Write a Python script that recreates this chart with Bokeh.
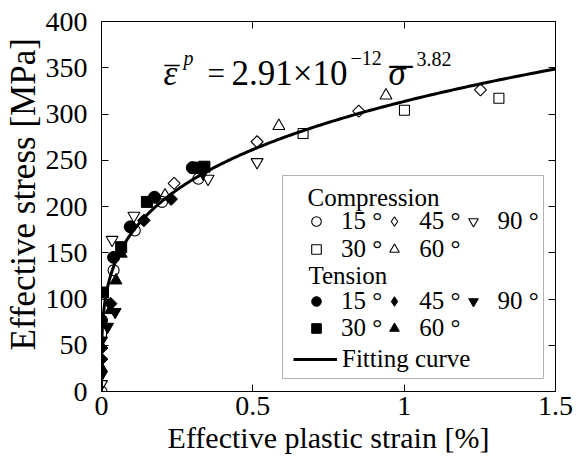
import numpy as np
from bokeh.plotting import figure
from bokeh.models import (Range1d, LinearAxis, FixedTicker, Label, Legend, LegendItem,
                          BoxAnnotation, Title)
from bokeh.embed import file_html
from bokeh.resources import INLINE

FONT = "Liberation Serif"

# ---- data ----
# Compression (open markers): strain [%], stress [MPa]
c15_x = [0.0, 0.04, 0.11, 0.20, 0.32]
c15_y = [0, 131, 174, 205, 230]
c30_x = [0.0, 0.666, 1.001, 1.313]
c30_y = [64, 279, 304, 317]
c45_x = [0.24, 0.514, 0.85, 1.252]
c45_y = [225, 270, 303, 326]
c60_x = [0.21, 0.586, 0.94]
c60_y = [212, 287, 320]
c90_x = [0.0, 0.035, 0.107, 0.352, 0.514]
c90_y = [8, 164, 190, 230, 248]

# Tension (filled markers)
t15_x = [0.0, 0.04, 0.095, 0.175, 0.30]
t15_y = [77, 145, 178, 210, 242]
t30_x = [0.005, 0.065, 0.15, 0.315, 0.34]
t30_y = [107, 156, 205, 242, 243]
t45_x = [0.0, 0.0, 0.03, 0.14, 0.23]
t45_y = [35, 47, 95, 185, 208]
t60_x = [0.0, 0.03, 0.048, 0.065, 0.31]
t60_y = [25, 88, 120, 149, 240]
t90_x = [0.0, 0.0, 0.02, 0.045, 0.335]
t90_y = [18, 55, 70, 86, 236]

# Fitting curve: eps_p = A * sigma^n (eps as fraction, plotted in %)
fit_A = 2.91e-12
fit_n = 3.82
fit_sigma = np.linspace(0, 352, 300)
fit_strain = 100 * fit_A * fit_sigma ** fit_n

x_ticks = [0, 0.5, 1, 1.5]
y_ticks = [0, 50, 100, 150, 200, 250, 300, 350, 400]

# ---- figure ----
p = figure(width=576, height=464, output_backend="svg", toolbar_location=None,
           x_range=Range1d(0, 1.5), y_range=Range1d(0, 400),
           min_border_left=101, min_border_right=21, min_border_top=21, min_border_bottom=73,
           background_fill_color="white", border_fill_color="white")
p.grid.visible = False
p.outline_line_color = "black"
p.outline_line_width = 1

bottom_ax = p.below[0]
left_ax = p.left[0]

def style_axis(ax, ticks, labels=True, standoff=6, size="28px"):
    ax.ticker = FixedTicker(ticks=ticks)
    ax.minor_tick_line_color = None
    ax.major_tick_in = 7
    ax.major_tick_out = 0
    ax.axis_line_color = "black"
    ax.major_tick_line_color = "black"
    ax.major_label_text_font = FONT
    ax.major_label_text_font_size = size
    ax.major_label_text_color = "black"
    ax.major_label_standoff = standoff
    if not labels:
        ax.major_label_overrides = {t: "" for t in ticks}

style_axis(bottom_ax, x_ticks, True, 5, "28px")
style_axis(left_ax, y_ticks, True, 14, "28px")
top_ax = LinearAxis()
right_ax = LinearAxis()
p.add_layout(top_ax, "above")
p.add_layout(right_ax, "right")
style_axis(top_ax, x_ticks, False)
style_axis(right_ax, y_ticks, False)

# x axis title
bottom_ax.axis_label = "Effective plastic strain [%]"
bottom_ax.axis_label_text_font = FONT
bottom_ax.axis_label_text_font_size = "30px"
bottom_ax.axis_label_text_font_style = "normal"
bottom_ax.axis_label_text_color = "black"
bottom_ax.axis_label_standoff = 3

# y axis title (as side title, to place it like the reference)
p.add_layout(Title(text="Effective stress [MPa]", align="left", offset=41, standoff=0,
                   text_font=FONT, text_font_size="35px", text_font_style="normal",
                   text_color="black"), "left")

# curve
curve = p.line(fit_strain, fit_sigma, line_color="black", line_width=3)

OPEN = dict(fill_color=None, line_color="black", line_width=1.1)
FILL = dict(fill_color="black", line_color="black", line_width=1)

rc15 = p.scatter(c15_x, c15_y, marker="circle", size=11, **OPEN)
rc30 = p.scatter(c30_x, c30_y, marker="square", size=10, **OPEN)
rc45 = p.scatter(c45_x, c45_y, marker="square", size=8.5, angle=np.pi / 4, **OPEN)
rc60 = p.scatter(c60_x, c60_y, marker="triangle", size=12, **OPEN)
rc90 = p.scatter(c90_x, c90_y, marker="inverted_triangle", size=12, **OPEN)

rt15 = p.scatter(t15_x, t15_y, marker="circle", size=12, **FILL)
rt30 = p.scatter(t30_x, t30_y, marker="square", size=11, **FILL)
rt45 = p.scatter(t45_x, t45_y, marker="square", size=9, angle=np.pi / 4, **FILL)
rt60 = p.scatter(t60_x, t60_y, marker="triangle", size=12, **FILL)
rt90 = p.scatter(t90_x, t90_y, marker="inverted_triangle", size=12, **FILL)

# diamond glyphs for the legend (the legend does not rotate markers);
# drawn at zero size under the rotated squares so they do not show in the plot
ld_open = p.scatter(c45_x, c45_y, marker="diamond", size=0, level="underlay", **OPEN)
ld_fill = p.scatter(t45_x, t45_y, marker="diamond", size=0, level="underlay", **FILL)

# ---- helpers in screen (frame) coordinates ----
FL, FB = 101, 391  # frame left / bottom in canvas pixels

def lab(text, cx, cy, size, style="normal", align="left", baseline="alphabetic"):
    p.add_layout(Label(x=cx - FL, y=FB - cy, x_units="screen", y_units="screen",
                       text=text, text_font=FONT, text_font_size=f"{size}px",
                       text_font_style=style, text_color="black",
                       text_align=align, text_baseline=baseline))

# legend box
p.add_layout(BoxAnnotation(left=282 - FL, right=543 - FL, bottom=FB - 378, top=FB - 175,
                           left_units="screen", right_units="screen",
                           bottom_units="screen", top_units="screen",
                           fill_color="white", fill_alpha=1.0,
                           line_color="black", line_width=1, level="annotation"))

lab("Compression", 307, 197, 25, baseline="middle")
lab("Tension", 308, 275, 25, baseline="middle")

H = 29.0

def row_legend(items, x0, cy, gw=24, gh=24, standoff=13, spacing=0):
    lg = Legend(items=[LegendItem(label=t, renderers=[r]) for t, r in items],
                orientation="horizontal", location=(x0 - FL, FB - cy - H / 2),
                glyph_width=gw, glyph_height=gh, label_standoff=standoff, spacing=spacing,
                padding=0, margin=0, border_line_color=None, background_fill_alpha=0,
                label_text_font=FONT, label_text_font_size="25px", label_text_color="black",
                label_height=20, label_width=20)
    p.add_layout(lg, "center")

row_legend([("15 °", rc15), ("45 °", ld_open), ("90 °", rc90)], 304, 220)
row_legend([("30 °", rc30), ("60 °", rc60)], 304, 248)
row_legend([("15 °", rt15), ("45 °", ld_fill), ("90 °", rt90)], 304, 300)
row_legend([("30 °", rt30), ("60 °", rt60)], 304, 327)
row_legend([("Fitting curve", curve)], 293, 358, gw=44, standoff=5)

# equation:  ε̄^p = 2.91×10^-12 σ̄^3.82
lab("ε", 163, 73, 35, style="italic")
lab("–", 164, 62, 30)          # overbar of epsilon
lab("p", 183, 57, 20, style="italic")
lab("=", 207, 73, 31)
lab("2.91×10", 231, 73, 35)
lab("−12", 350, 57, 20)
lab("σ", 388, 73, 35, style="italic")
lab("–", 389, 62, 46)          # overbar of sigma
lab("3.82", 416, 58, 20)

open("out.html", "w").write(file_html(p, INLINE))
